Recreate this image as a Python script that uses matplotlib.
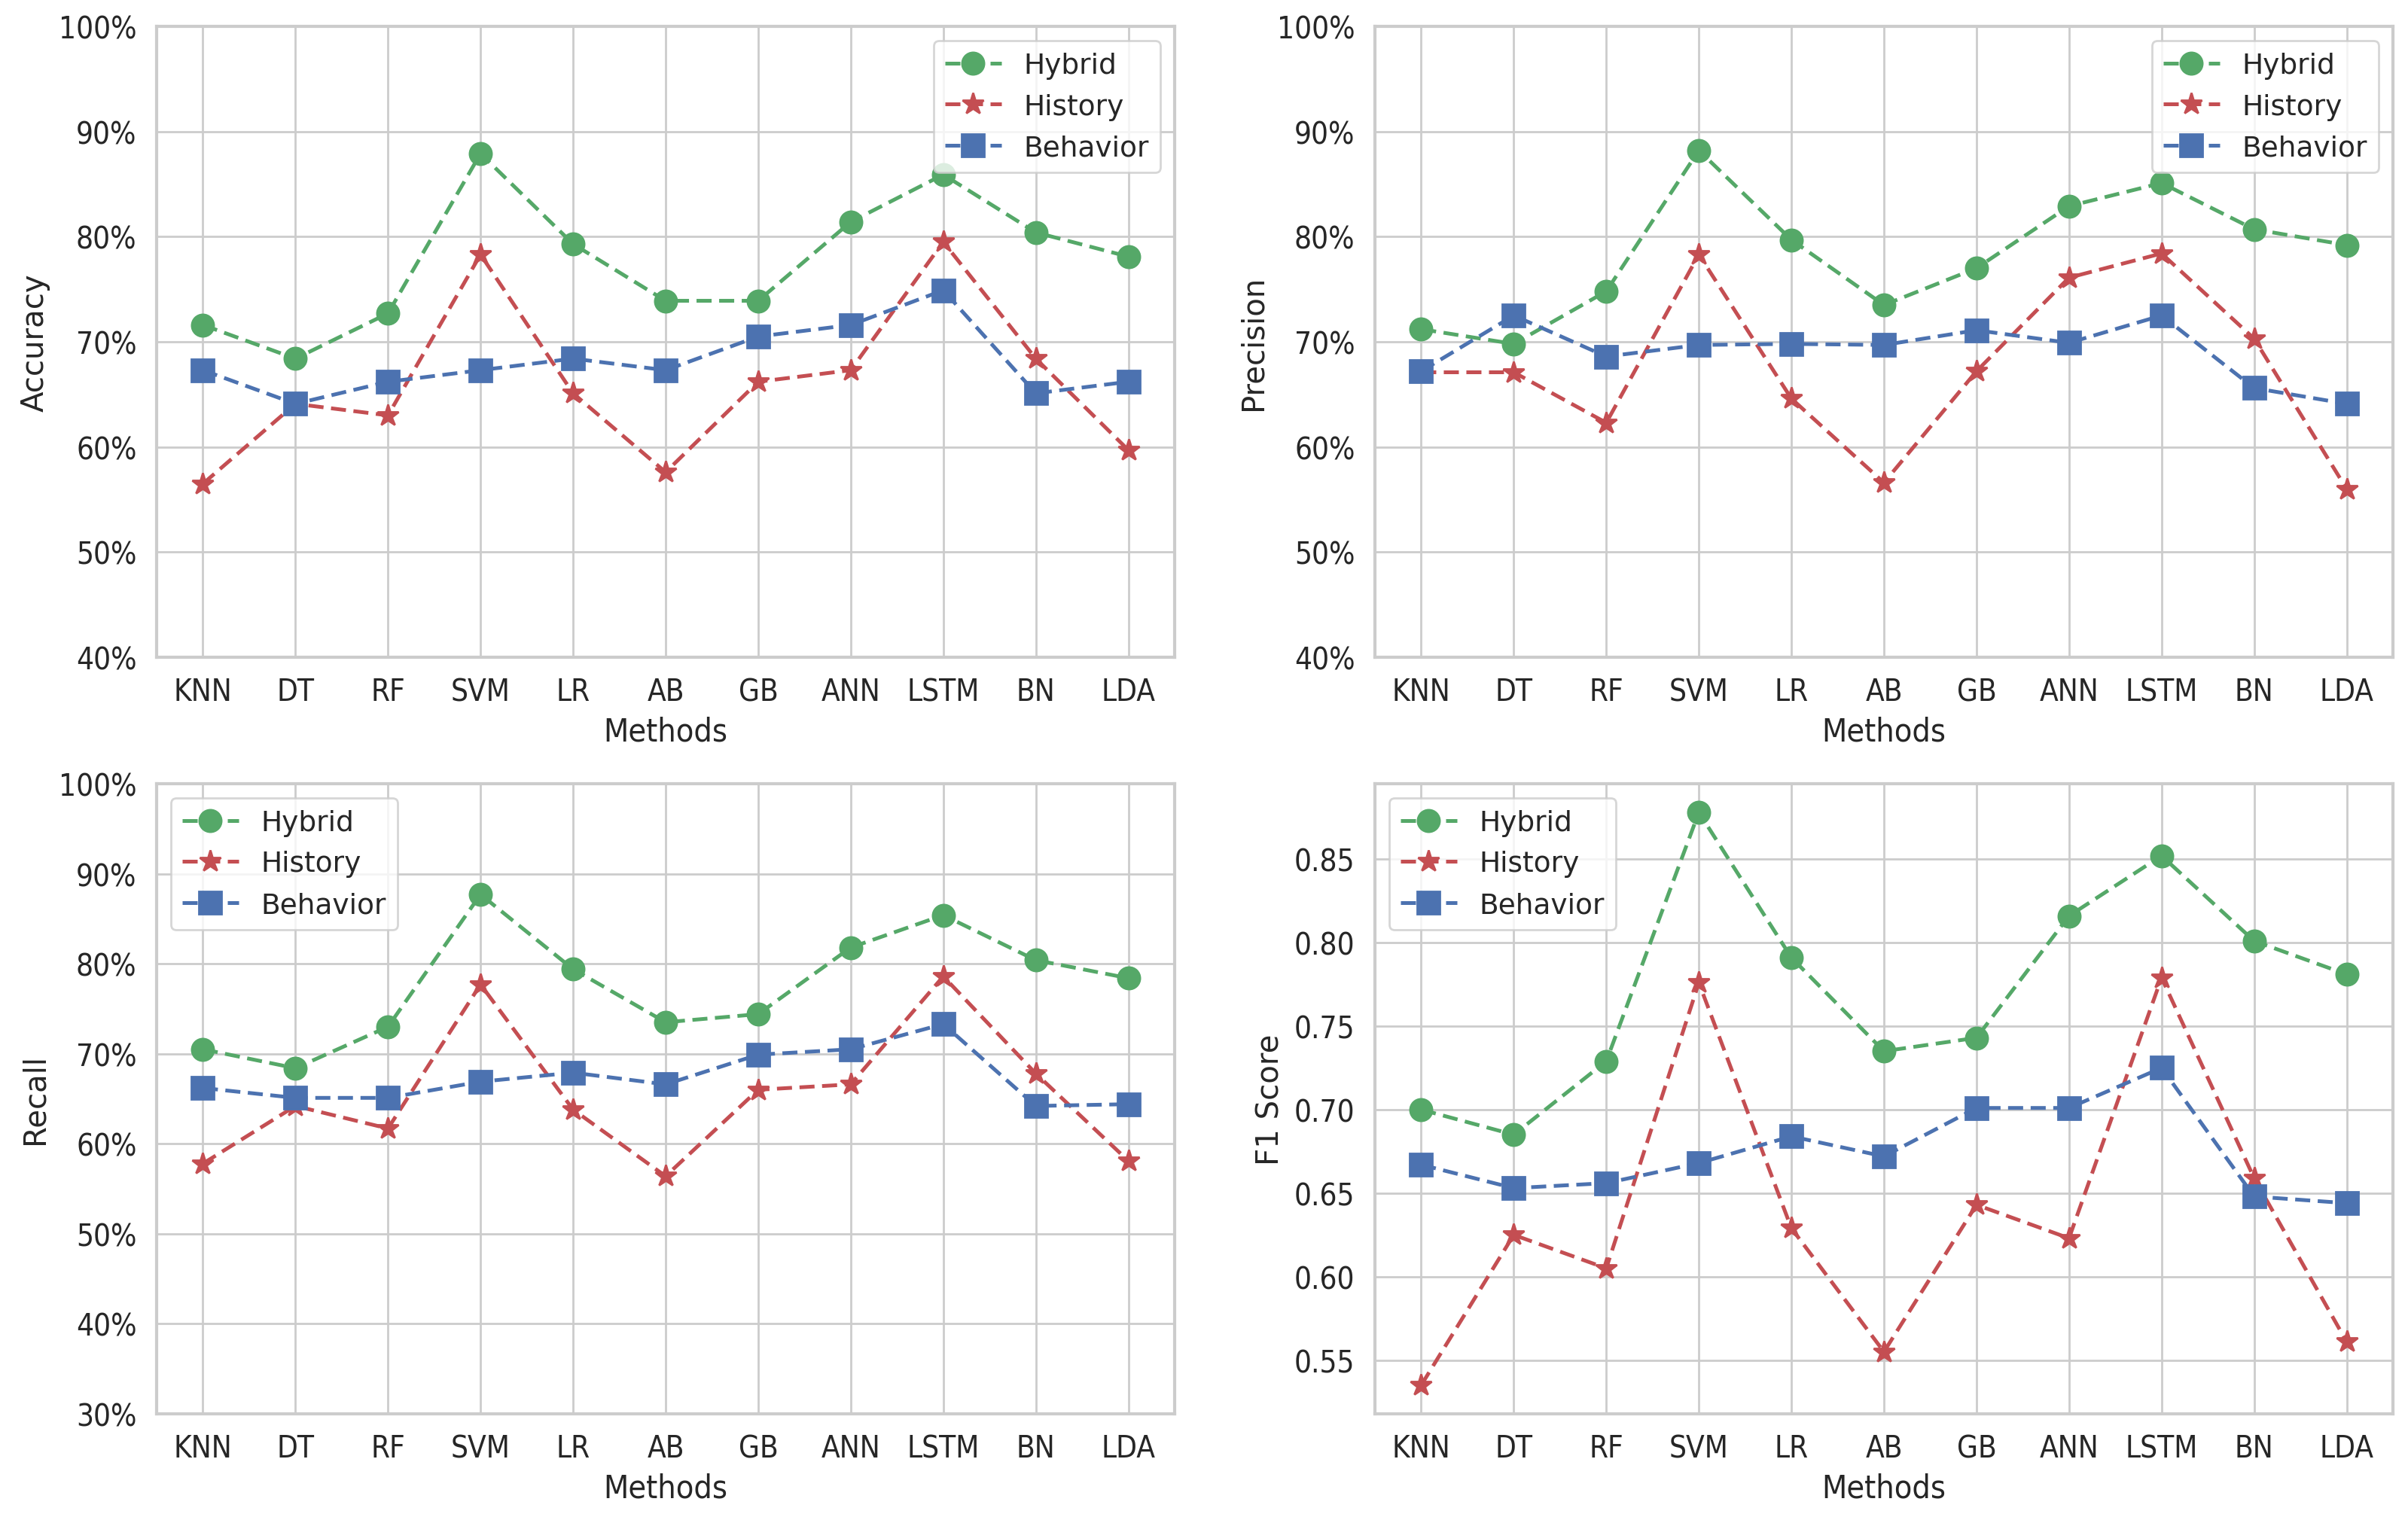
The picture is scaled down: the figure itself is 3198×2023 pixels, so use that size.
import matplotlib
matplotlib.use("Agg")
import matplotlib.pyplot as plt
import seaborn as sns
from matplotlib.ticker import PercentFormatter

methods = ["KNN", "DT", "RF", "SVM", "LR", "AB", "GB", "ANN", "LSTM", "BN", "LDA"]

acc_hybrid = [0.716, 0.684, 0.727, 0.879, 0.793, 0.739, 0.739, 0.814, 0.859, 0.804, 0.781]
acc_history = [0.565, 0.641, 0.630, 0.783, 0.651, 0.576, 0.662, 0.673, 0.795, 0.684, 0.597]
acc_behavior = [0.673, 0.641, 0.662, 0.673, 0.684, 0.673, 0.705, 0.716, 0.749, 0.651, 0.662]

prec_hybrid = [0.712, 0.698, 0.748, 0.882, 0.797, 0.735, 0.770, 0.829, 0.851, 0.807, 0.792]
prec_history = [0.671, 0.671, 0.623, 0.783, 0.646, 0.566, 0.672, 0.761, 0.784, 0.703, 0.560]
prec_behavior = [0.672, 0.725, 0.686, 0.697, 0.698, 0.697, 0.711, 0.699, 0.725, 0.656, 0.641]

rec_hybrid = [0.705, 0.684, 0.730, 0.877, 0.794, 0.735, 0.744, 0.818, 0.854, 0.804, 0.784]
rec_history = [0.578, 0.642, 0.617, 0.777, 0.638, 0.564, 0.660, 0.666, 0.786, 0.678, 0.581]
rec_behavior = [0.662, 0.651, 0.651, 0.669, 0.679, 0.666, 0.699, 0.705, 0.733, 0.642, 0.644]

f1_hybrid = [0.700, 0.685, 0.729, 0.878, 0.791, 0.735, 0.743, 0.816, 0.852, 0.801, 0.781]
f1_history = [0.535, 0.625, 0.605, 0.776, 0.629, 0.555, 0.643, 0.623, 0.779, 0.659, 0.561]
f1_behavior = [0.667, 0.653, 0.656, 0.668, 0.684, 0.672, 0.701, 0.701, 0.725, 0.648, 0.644]

sns.set_theme(style="whitegrid")
plt.rcParams["font.family"] = ["DejaVu Sans"]

GREEN = "#55A868"
RED = "#C44E52"
BLUE = "#4C72B0"

fig = plt.figure(figsize=(15.99, 10.12), dpi=200)
W, H = 3198, 2024
def box(l, t, r, b):
    return [l / W, 1 - b / H, (r - l) / W, (b - t) / H]

panels = [
    (box(208, 36, 1560, 874), "Accuracy", acc_hybrid, acc_history, acc_behavior, (0.4, 1.0), True, "upper right"),
    (box(1826, 36, 3178, 874), "Precision", prec_hybrid, prec_history, prec_behavior, (0.4, 1.0), True, "upper right"),
    (box(208, 1042, 1560, 1879), "Recall", rec_hybrid, rec_history, rec_behavior, (0.3, 1.0), True, "upper left"),
    (box(1826, 1042, 3178, 1879), "F1 Score", f1_hybrid, f1_history, f1_behavior, None, False, "upper left"),
]

xlabel_font = dict(family="DejaVu Sans", stretch="condensed", size=15.5)

for rect, ylabel, hyb, his, beh, ylim, pct, loc in panels:
    ax = fig.add_axes(rect)
    x = list(range(len(methods)))
    style = dict(lw=1.8, ms=10.5, dashes=(4, 2))
    ax.plot(x, hyb, "--o", color=GREEN, label="Hybrid", **style)
    ax.plot(x, his, "--*", color=RED, label="History", **style)
    ax.plot(x, beh, "--s", color=BLUE, label="Behavior", **style)
    ax.set_xticks(x)
    ax.set_xticklabels(methods)
    if ylim is not None:
        ax.set_ylim(*ylim)
    if pct:
        ax.yaxis.set_major_formatter(PercentFormatter(xmax=1.0, decimals=0))
    for lab in ax.get_xticklabels() + ax.get_yticklabels():
        lab.set_fontfamily("DejaVu Sans")
        lab.set_fontstretch("condensed")
        lab.set_fontsize(14.5)
        lab.set_color("#262626")
    ax.set_xlabel("Methods", fontdict=xlabel_font, color="#262626")
    ax.set_ylabel(ylabel, fontsize=14.5, color="#262626")
    for s in ax.spines.values():
        s.set_linewidth(1.5)
        s.set_color("#cccccc")
    ax.legend(loc=loc, fontsize=13.5)

fig.savefig("out.png", dpi=200)
